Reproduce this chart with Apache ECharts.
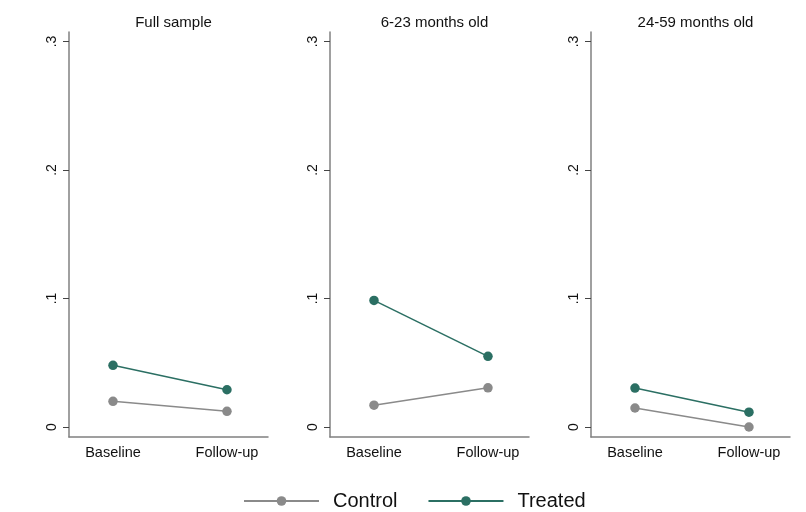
<!DOCTYPE html>
<html><head><meta charset="utf-8">
<script src="https://cdn.jsdelivr.net/npm/echarts@6/dist/echarts.min.js"></script>
<style>html,body{margin:0;padding:0;background:#fff}#c{width:806px;height:512px}</style>
</head><body><div id="c"></div>
<script>
const panels = ["Full sample", "6-23 months old", "24-59 months old"];
const periods = ["Baseline", "Follow-up"];
const yTicks = [0, 0.1, 0.2, 0.3];
const controlVals = [[0.020, 0.0122], [0.0170, 0.0305], [0.0148, 0.0]];
const treatedVals = [[0.0480, 0.0290], [0.0985, 0.0550], [0.0303, 0.0115]];

const FONT = "Liberation Sans, Arial, sans-serif";
const gridLefts = [69, 330, 591];
const gridW = 199;
const cCtrl = "#8a8a8a", cTrt = "#2b6f63";

const grids = [], xAxes = [], yAxes = [], series = [], titles = [];
panels.forEach((p, i) => {
  grids.push({left: gridLefts[i], width: gridW, top: 32, bottom: 75, containLabel: false});
  titles.push({text: p, left: gridLefts[i] + gridW/2, top: 10, textAlign: 'center',
    textStyle: {fontFamily: FONT, fontSize: 15, fontWeight: 'normal', color: '#111'}});
  xAxes.push({type: 'value', gridIndex: i, min: 0.614, max: 2.36,
    axisLine: {show: true, onZero: false, lineStyle: {color: '#808080', width: 1.5}},
    axisTick: {show: false}, splitLine: {show: false},
    axisLabel: {customValues: [1, 2], formatter: v => periods[Math.round(v) - 1] || '',
      fontFamily: FONT, fontSize: 14.5, color: '#111', margin: 8}});
  yAxes.push({type: 'value', gridIndex: i, min: -0.00778, max: 0.3074,
    axisLine: {show: true, onZero: false, lineStyle: {color: '#808080', width: 1.5}},
    axisTick: {show: true, length: 6, customValues: yTicks, lineStyle: {color: '#444', width: 1}},
    splitLine: {show: false},
    axisLabel: {customValues: yTicks, rotate: 90, margin: 10,
      formatter: v => v === 0 ? '0' : ('.' + Math.round(v * 10)),
      fontFamily: FONT, fontSize: 14, color: '#111'}});
  series.push({name: 'Control', type: 'line', xAxisIndex: i, yAxisIndex: i,
    data: controlVals[i].map((v, k) => [k + 1, v]), symbol: 'circle', symbolSize: 9.5,
    lineStyle: {color: cCtrl, width: 1.5}, itemStyle: {color: cCtrl}, animation: false});
  series.push({name: 'Treated', type: 'line', xAxisIndex: i, yAxisIndex: i,
    data: treatedVals[i].map((v, k) => [k + 1, v]), symbol: 'circle', symbolSize: 9.5,
    lineStyle: {color: cTrt, width: 1.5}, itemStyle: {color: cTrt}, animation: false});
});

const chart = echarts.init(document.getElementById('c'), null, {renderer: 'canvas'});
chart.setOption({
  backgroundColor: '#fff',
  animation: false,
  title: titles,
  grid: grids, xAxis: xAxes, yAxis: yAxes, series: series,
  legend: {data: ['Control', 'Treated'], left: 243, top: 491, padding: 0,
    itemWidth: 75, itemHeight: 12, itemGap: 30,
    textStyle: {fontFamily: FONT, fontSize: 20, color: '#111', padding: [0, 0, 0, 9]}}
});
</script></body></html>
